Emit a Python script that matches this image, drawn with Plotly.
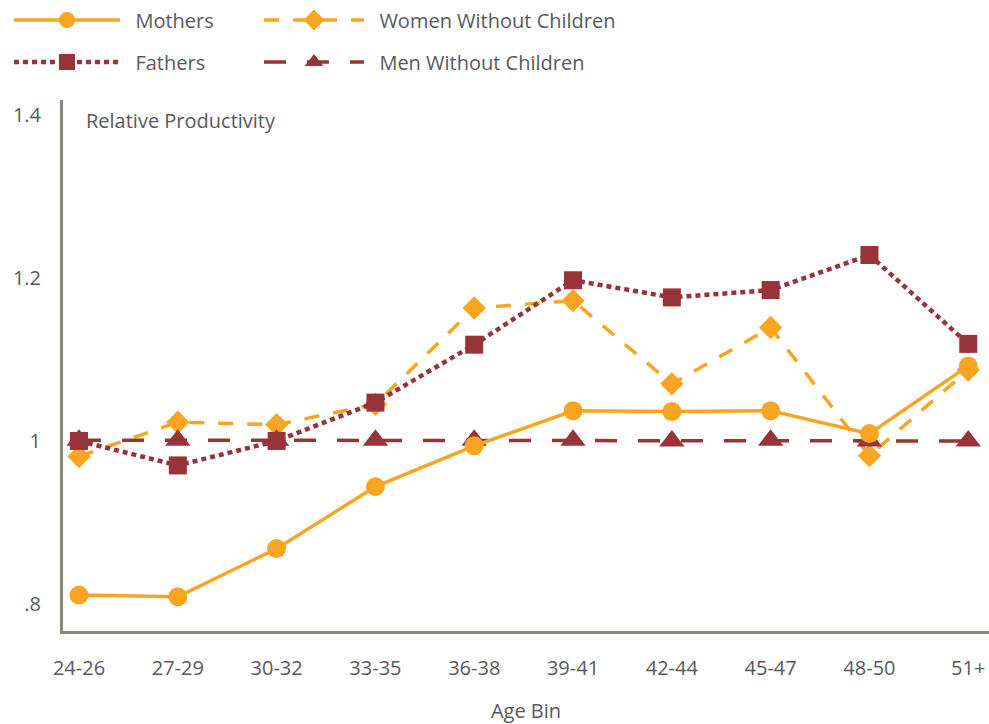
import plotly.graph_objects as go

# ---- data ----
age_bins = ["24-26", "27-29", "30-32", "33-35", "36-38",
            "39-41", "42-44", "45-47", "48-50", "51+"]
mothers = [0.811, 0.809, 0.868, 0.944, 0.994, 1.037, 1.036, 1.037, 1.009, 1.092]
fathers = [1.000, 0.970, 1.000, 1.047, 1.118, 1.197, 1.176, 1.185, 1.228, 1.119]
women_without_children = [0.981, 1.023, 1.020, 1.045, 1.163, 1.172, 1.070, 1.139, 0.982, 1.087]
men_without_children = [1.001, 1.001, 1.001, 1.001, 1.001, 1.001, 1.000, 1.001, 1.000, 1.000]
y_tick_vals = [0.8, 1.0, 1.2, 1.4]
y_tick_text = [".8", "1", "1.2", "1.4"]

ORANGE = "#F9A521"
MAROON = "#983339"
TEXT = "#58595B"
AXIS = "#8C877E"
FONT = "Open Sans"
FS = 20
NB = "\u00a0\u00a0"

fig = go.Figure()

fig.add_trace(go.Scatter(
    x=age_bins, y=women_without_children, name=NB + "Women Without Children",
    mode="lines+markers", legend="legend2",
    line=dict(color=ORANGE, width=3.5, dash="15px,14px"),
    marker=dict(symbol="diamond", size=18, color=ORANGE)))
fig.add_trace(go.Scatter(
    x=age_bins, y=fathers, name=NB + "Fathers",
    mode="lines+markers", legend="legend3",
    line=dict(color=MAROON, width=4.5, dash="5px,4px"),
    marker=dict(symbol="square", size=18, color=MAROON)))
fig.add_trace(go.Scatter(
    x=age_bins, y=men_without_children, name=NB + "Men Without Children",
    mode="lines+markers", legend="legend4",
    line=dict(color=MAROON, width=3.5, dash="22px,21px"),
    marker=dict(symbol="triangle-up", size=22, color=MAROON)))
fig.add_trace(go.Scatter(
    x=age_bins, y=mothers, name=NB + "Mothers",
    mode="lines+markers", legend="legend",
    line=dict(color=ORANGE, width=3.5),
    marker=dict(symbol="circle", size=19, color=ORANGE)))

W, H = 989, 724
L, R, T, B = 63, 0, 100, 93
pw = W - L - R
ph = H - T - B

def px_x(px):  # page pixel -> paper x
    return (px - L) / pw

def px_y(py):  # page pixel -> paper y
    return (H - B - py) / ph

legend_font = dict(family=FONT, size=FS, color=TEXT)
def leg(xpx, ypx, w):
    return dict(x=px_x(xpx), y=px_y(ypx), xanchor="left", yanchor="middle",
                bgcolor="rgba(0,0,0,0)", borderwidth=0, font=legend_font,
                itemwidth=w, orientation="v")

fig.update_layout(
    width=W, height=H,
    margin=dict(l=L, r=R, t=T, b=B, autoexpand=False),
    paper_bgcolor="white", plot_bgcolor="white",
    font=dict(family=FONT, size=FS, color=TEXT),
    showlegend=True,
    legend=leg(9, 20, 106),
    legend2=leg(259, 20, 100),
    legend3=leg(9, 62, 106),
    legend4=leg(259, 62, 100),
    xaxis=dict(
        type="category", range=[-0.162, 9.21], automargin=False,
        showgrid=False, zeroline=False,
        showline=True, linecolor=AXIS, linewidth=3,
        ticks="", ticklabelstandoff=17,
        tickfont=dict(family=FONT, size=FS, color=TEXT),
        title=dict(text="Age Bin", standoff=25,
                   font=dict(family=FONT, size=FS, color=TEXT)),
    ),
    yaxis=dict(
        range=[0.767, 1.418], automargin=False,
        tickvals=y_tick_vals, ticktext=y_tick_text,
        showgrid=False, zeroline=False,
        showline=True, linecolor=AXIS, linewidth=3,
        ticks="", ticklabelstandoff=15,
        tickfont=dict(family=FONT, size=FS, color=TEXT),
    ),
    annotations=[dict(
        text="Relative Productivity", xref="paper", yref="paper",
        x=px_x(84), y=px_y(121), xanchor="left", yanchor="middle",
        showarrow=False, font=dict(family=FONT, size=FS, color=TEXT))],
)

fig.write_html(
    "out.html",
    config={"displayModeBar": False},
    post_script="document.body.style.margin='0';document.body.style.overflow='hidden';",
)
